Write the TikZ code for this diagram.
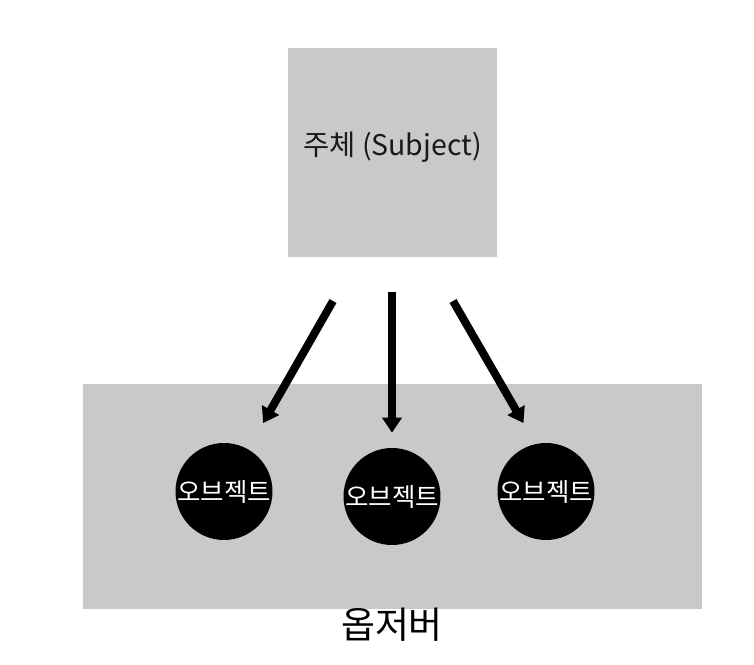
\documentclass[tikz,border=0pt]{standalone}
\usepackage{fontspec}
\setmainfont{Noto Sans CJK KR}
\usetikzlibrary{positioning,arrows.meta}
\definecolor{boxgrey}{RGB}{201,201,201}

\begin{document}
\begin{tikzpicture}[x=0.02cm, y=-0.02cm,
    greybox/.style={fill=boxgrey, draw=none, inner sep=0pt},
    objnode/.style={circle, fill=black, minimum size=1.94cm, inner sep=0pt, text=white, font=\fontsize{14.5}{17}\selectfont},
    flow/.style={-{Triangle[width=0.38cm,length=0.3cm]}, line width=0.16cm}]
            \useasboundingbox (0,0) rectangle (754,665);
            % observer area and subject
            \node[greybox, minimum width=12.38cm, minimum height=4.5cm] (observers) at (392.5,496.5) {};
            \node[greybox, minimum width=4.18cm, minimum height=4.18cm] (subject) at (392.5,152.5) {};
            \node[font=\fontsize{16.2}{19}\selectfont, text=black!90] (subjlabel) at (392.5,147) {주체 (Subject)};
            \node[font=\fontsize{21}{25}\selectfont] (obslabel) at (392,625) {옵저버};
            % objects
            \node[objnode] (obj1) at (224,491.5) {오브젝트};
            \node[objnode] (obj2) at (392,496.5) {오브젝트};
            \node[objnode] (obj3) at (546,491.5) {오브젝트};
            % notifications
            \coordinate (start1) at (333,301);
            \coordinate (start2) at (392,292);
            \coordinate (start3) at (453,301);
            \draw[flow, shorten >=0.6cm] (start1) -- (obj1);
            \draw[flow, shorten >=0.3cm] (start2) -- (obj2);
            \draw[flow, shorten >=1.58cm] (start3) -- ([xshift=0.34cm]obj3.center);
        \end{tikzpicture}
\end{document}
